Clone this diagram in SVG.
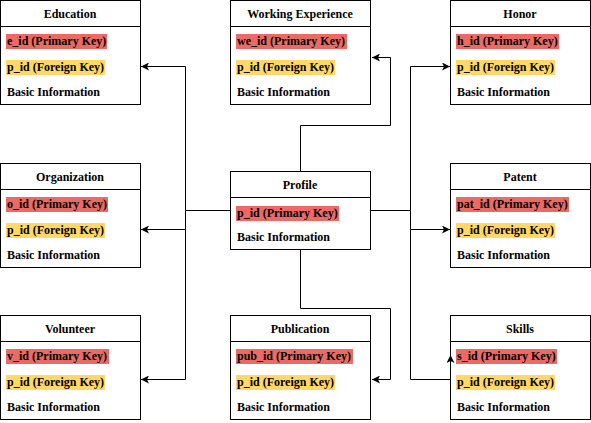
<svg xmlns="http://www.w3.org/2000/svg" width="591" height="423" viewBox="0 0 591 423">
<style>
.box{fill:#fff;stroke:#000;stroke-width:1}
.sep{stroke:#000;stroke-width:1}
.lbl{font-family:'Liberation Serif','Times New Roman',Times,serif;font-weight:bold;font-size:12px;fill:#000}
.t{text-anchor:middle}
.pk{fill:#EA6B66}
.fk{fill:#FFD966}
.edge{fill:none;stroke:#000;stroke-width:1}
</style>
<defs>
<marker id="arr" viewBox="0 0 8 8" refX="8" refY="4" markerWidth="8" markerHeight="8" markerUnits="userSpaceOnUse" orient="auto">
<path d="M8,4 L0,0 L2,4 L0,8 Z" fill="#000"/>
</marker>
</defs>
<rect width="591" height="423" fill="#fff"/>

<g id="education" class="lbl" transform="translate(0,0)">
<rect class="box" x="0.5" y="0.5" width="140" height="104"/>
<line class="sep" x1="0.5" y1="26.5" x2="140.5" y2="26.5"/>
<text class="t" x="70" y="18">Education</text>
<rect class="pk" x="6" y="34" width="101" height="15"/>
<text x="7" y="45">e_id (Primary Key)</text>
<rect class="fk" x="6" y="60" width="99" height="15"/>
<text x="7" y="71">p_id (Foreign Key)</text>
<text x="7" y="96">Basic Information</text>
</g>

<g id="working-experience" class="lbl" transform="translate(230,0)">
<rect class="box" x="0.5" y="0.5" width="140" height="104"/>
<line class="sep" x1="0.5" y1="26.5" x2="140.5" y2="26.5"/>
<text class="t" x="70" y="18">Working Experience</text>
<rect class="pk" x="6" y="34" width="111" height="15"/>
<text x="7" y="45">we_id (Primary Key)</text>
<rect class="fk" x="6" y="60" width="99" height="15"/>
<text x="7" y="71">p_id (Foreign Key)</text>
<text x="7" y="96">Basic Information</text>
</g>

<g id="honor" class="lbl" transform="translate(450,0)">
<rect class="box" x="0.5" y="0.5" width="140" height="104"/>
<line class="sep" x1="0.5" y1="26.5" x2="140.5" y2="26.5"/>
<text class="t" x="70" y="18">Honor</text>
<rect class="pk" x="6" y="34" width="103" height="15"/>
<text x="7" y="45">h_id (Primary Key)</text>
<rect class="fk" x="6" y="60" width="99" height="15"/>
<text x="7" y="71">p_id (Foreign Key)</text>
<text x="7" y="96">Basic Information</text>
</g>

<g id="organization" class="lbl" transform="translate(0,163)">
<rect class="box" x="0.5" y="0.5" width="140" height="104"/>
<line class="sep" x1="0.5" y1="26.5" x2="140.5" y2="26.5"/>
<text class="t" x="70" y="18">Organization</text>
<rect class="pk" x="6" y="34" width="102" height="15"/>
<text x="7" y="45">o_id (Primary Key)</text>
<rect class="fk" x="6" y="60" width="99" height="15"/>
<text x="7" y="71">p_id (Foreign Key)</text>
<text x="7" y="96">Basic Information</text>
</g>

<g id="profile" class="lbl" transform="translate(230,171)">
<rect class="box" x="0.5" y="0.5" width="140" height="78"/>
<line class="sep" x1="0.5" y1="26.5" x2="140.5" y2="26.5"/>
<text class="t" x="70" y="18">Profile</text>
<rect class="pk" x="6" y="35" width="103" height="15"/>
<text x="7" y="46">p_id (Primary Key)</text>
<text x="7" y="70">Basic Information</text>
</g>

<g id="patent" class="lbl" transform="translate(450,163)">
<rect class="box" x="0.5" y="0.5" width="140" height="104"/>
<line class="sep" x1="0.5" y1="26.5" x2="140.5" y2="26.5"/>
<text class="t" x="70" y="18">Patent</text>
<rect class="pk" x="6" y="34" width="113" height="15"/>
<text x="7" y="45">pat_id (Primary Key)</text>
<rect class="fk" x="6" y="60" width="99" height="15"/>
<text x="7" y="71">p_id (Foreign Key)</text>
<text x="7" y="96">Basic Information</text>
</g>

<g id="volunteer" class="lbl" transform="translate(0,315)">
<rect class="box" x="0.5" y="0.5" width="140" height="104"/>
<line class="sep" x1="0.5" y1="26.5" x2="140.5" y2="26.5"/>
<text class="t" x="70" y="18">Volunteer</text>
<rect class="pk" x="6" y="34" width="103" height="15"/>
<text x="7" y="45">v_id (Primary Key)</text>
<rect class="fk" x="6" y="60" width="99" height="15"/>
<text x="7" y="71">p_id (Foreign Key)</text>
<text x="7" y="96">Basic Information</text>
</g>

<g id="publication" class="lbl" transform="translate(230,315)">
<rect class="box" x="0.5" y="0.5" width="140" height="104"/>
<line class="sep" x1="0.5" y1="26.5" x2="140.5" y2="26.5"/>
<text class="t" x="70" y="18">Publication</text>
<rect class="pk" x="6" y="34" width="117" height="15"/>
<text x="7" y="45">pub_id (Primary Key)</text>
<rect class="fk" x="6" y="60" width="99" height="15"/>
<text x="7" y="71">p_id (Foreign Key)</text>
<text x="7" y="96">Basic Information</text>
</g>

<g id="skills" class="lbl" transform="translate(450,315)">
<rect class="box" x="0.5" y="0.5" width="140" height="104"/>
<line class="sep" x1="0.5" y1="26.5" x2="140.5" y2="26.5"/>
<text class="t" x="70" y="18">Skills</text>
<rect class="pk" x="6" y="34" width="101" height="15"/>
<text x="7" y="45">s_id (Primary Key)</text>
<rect class="fk" x="6" y="60" width="99" height="15"/>
<text x="7" y="71">p_id (Foreign Key)</text>
<text x="7" y="96">Basic Information</text>
</g>

<g id="connectors">
<path class="edge" d="M230.5 210.5 H185.5 V66.5 H141" marker-end="url(#arr)"/>
<path class="edge" d="M185.5 210.5 V229.5 H141" marker-end="url(#arr)"/>
<path class="edge" d="M185.5 229.5 V379.5 H141" marker-end="url(#arr)"/>
<path class="edge" d="M300.5 171 V125.5 H390.5 V57.5 H372" marker-end="url(#arr)"/>
<path class="edge" d="M371 210.5 H410.5 V66.5 H450" marker-end="url(#arr)"/>
<path class="edge" d="M410.5 210.5 V229.5 H450" marker-end="url(#arr)"/>
<path class="edge" d="M410.5 229.5 V379.5 H450.5 V355" marker-end="url(#arr)"/>
<path class="edge" d="M300.5 249 V308.5 H390.5 V379.5 H372" marker-end="url(#arr)"/>
</g>
</svg>
